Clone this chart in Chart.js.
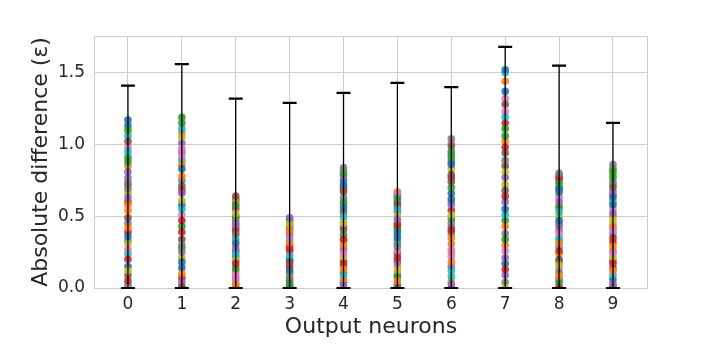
<!DOCTYPE html>
<html>
<head>
<meta charset="utf-8">
<script src="https://cdn.jsdelivr.net/npm/chart.js@4/dist/chart.umd.min.js"></script>
<style>
  html, body { margin: 0; padding: 0; background: #ffffff; }
  #wrap { width: 720px; height: 360px; }
</style>
</head>
<body>
<div id="wrap"><canvas id="chart" width="720" height="360"></canvas></div>
<script>
// one array per output neuron: absolute difference of each sample
const neuron0 = [1.17, 0.42, 0.88, 0.05, 0.63, 1.02, 0.27, 0.74, 0.12, 0.95, 0.36, 0.58, 1.10, 0.20, 0.81, 0.49, 0.00, 0.69, 0.31, 1.06, 0.15, 0.54, 0.91, 0.39, 0.77, 0.09, 0.98, 0.45, 0.66, 0.24, 1.13, 0.85, 0.02, 0.60, 0.33, 0.72];
const neuron1 = [0.83, 0.10, 1.19, 0.47, 0.66, 0.01, 0.92, 0.30, 1.05, 0.55, 0.18, 0.78, 1.15, 0.39, 0.04, 0.71, 0.97, 0.25, 0.61, 1.11, 0.14, 0.86, 0.43, 0.07, 1.01, 0.34, 0.51, 0.75, 0.21, 0.89, 0.58, 1.08, 0.28, 0.68, 0.95, 0.00];
const neuron2 = [0.31, 0.02, 0.58, 0.17, 0.44, 0.64, 0.09, 0.37, 0.52, 0.24, 0.00, 0.61, 0.13, 0.40, 0.28, 0.55, 0.05, 0.47, 0.20, 0.34, 0.62, 0.11, 0.49, 0.26, 0.07, 0.42, 0.57, 0.15, 0.33, 0.60, 0.22, 0.03, 0.38, 0.50, 0.19, 0.45];
const neuron3 = [0.12, 0.40, 0.03, 0.27, 0.49, 0.18, 0.35, 0.08, 0.45, 0.22, 0.00, 0.31, 0.47, 0.14, 0.38, 0.05, 0.25, 0.43, 0.10, 0.33, 0.20, 0.48, 0.01, 0.29, 0.16, 0.41, 0.07, 0.36, 0.23, 0.46, 0.11, 0.30, 0.02, 0.19, 0.44, 0.26];
const neuron4 = [0.56, 0.13, 0.80, 0.34, 0.02, 0.67, 0.24, 0.84, 0.45, 0.09, 0.72, 0.30, 0.59, 0.17, 0.78, 0.41, 0.00, 0.63, 0.21, 0.50, 0.75, 0.06, 0.37, 0.69, 0.27, 0.53, 0.82, 0.15, 0.47, 0.61, 0.04, 0.33, 0.71, 0.19, 0.43, 0.11];
const neuron5 = [0.39, 0.05, 0.62, 0.21, 0.48, 0.00, 0.66, 0.29, 0.12, 0.55, 0.35, 0.67, 0.08, 0.44, 0.18, 0.59, 0.26, 0.02, 0.51, 0.33, 0.64, 0.15, 0.41, 0.57, 0.10, 0.24, 0.46, 0.60, 0.03, 0.37, 0.53, 0.19, 0.31, 0.65, 0.07, 0.43];
const neuron6 = [0.62, 0.18, 0.95, 0.40, 0.03, 0.79, 0.27, 1.04, 0.51, 0.12, 0.86, 0.35, 0.70, 0.00, 0.58, 0.99, 0.22, 0.45, 0.83, 0.08, 0.66, 0.31, 0.91, 0.54, 0.15, 0.74, 1.01, 0.38, 0.05, 0.60, 0.88, 0.25, 0.48, 0.77, 0.93, 0.42];
const neuron7 = [1.52, 0.43, 1.06, 0.13, 0.77, 1.28, 0.26, 0.89, 0.00, 1.19, 0.55, 1.44, 0.34, 0.98, 0.21, 0.68, 1.23, 0.04, 0.81, 0.51, 1.37, 0.30, 1.11, 0.64, 0.09, 0.94, 1.32, 0.38, 0.72, 1.50, 0.17, 1.02, 0.47, 1.15, 0.60, 0.85];
const neuron8 = [0.47, 0.08, 0.73, 0.26, 0.60, 0.01, 0.38, 0.80, 0.16, 0.53, 0.67, 0.31, 0.04, 0.77, 0.43, 0.20, 0.63, 0.11, 0.50, 0.35, 0.70, 0.24, 0.57, 0.00, 0.45, 0.75, 0.14, 0.40, 0.65, 0.29, 0.06, 0.55, 0.18, 0.78, 0.33, 0.69];
const neuron9 = [0.58, 0.12, 0.81, 0.35, 0.03, 0.70, 0.24, 0.86, 0.47, 0.09, 0.63, 0.29, 0.77, 0.17, 0.52, 0.00, 0.40, 0.74, 0.21, 0.60, 0.06, 0.44, 0.83, 0.32, 0.67, 0.14, 0.55, 0.26, 0.79, 0.38, 0.01, 0.50, 0.72, 0.19, 0.42, 0.65];

// upper end of the error bar for each neuron (lower end is 0)
const errTop = [1.41, 1.56, 1.32, 1.29, 1.36, 1.43, 1.40, 1.68, 1.55, 1.15];

const neurons = [0, 1, 2, 3, 4, 5, 6, 7, 8, 9];
const yTicks = [0, 0.5, 1.0, 1.5];

const columns = [neuron0, neuron1, neuron2, neuron3, neuron4, neuron5, neuron6, neuron7, neuron8, neuron9];
const tab10 = ['#1f77b4', '#ff7f0e', '#2ca02c', '#d62728', '#9467bd', '#8c564b', '#e377c2', '#7f7f7f', '#bcbd22', '#17becf'];

// each sample is one scatter call in the original, so it gets one colour
const datasets = [];
for (let k = 0; k < neuron0.length; k++) {
    datasets.push({
        data: neurons.map(n => ({ x: n, y: columns[n][k] })),
        backgroundColor: tab10[k % 10] + 'e6',
        borderWidth: 0,
        pointRadius: 3.8,
        pointHoverRadius: 3.8
    });
}

const textColor = '#262626';
const gridColor = '#cccccc';

const errorBars = {
    id: 'errorBars',
    afterDatasetsDraw(chart) {
        const ctx = chart.ctx;
        const xs = chart.scales.x;
        const ys = chart.scales.y;
        ctx.save();
        ctx.strokeStyle = '#000000';
        neurons.forEach((n, i) => {
            const x = xs.getPixelForValue(n);
            const y0 = ys.getPixelForValue(0);
            const y1 = ys.getPixelForValue(errTop[i]);
            ctx.lineWidth = 1.3;
            ctx.beginPath();
            ctx.moveTo(x, y0);
            ctx.lineTo(x, y1);
            ctx.stroke();
            ctx.lineWidth = 2.2;
            ctx.beginPath();
            ctx.moveTo(x - 7, y1);
            ctx.lineTo(x + 7, y1);
            ctx.moveTo(x - 7, y0);
            ctx.lineTo(x + 7, y0);
            ctx.stroke();
        });
        ctx.restore();
    }
};

const frame = {
    id: 'frame',
    beforeDatasetsDraw(chart) {
        const { ctx, chartArea: a } = chart;
        ctx.save();
        ctx.strokeStyle = gridColor;
        ctx.lineWidth = 1;
        ctx.strokeRect(Math.round(a.left) + 0.5, Math.round(a.top) + 0.5,
            Math.round(a.right - a.left) - 1, Math.round(a.bottom - a.top));
        ctx.restore();
    }
};

new Chart(document.getElementById('chart'), {
    type: 'scatter',
    data: { datasets: datasets },
    plugins: [frame, errorBars],
    options: {
        responsive: false,
        animation: false,
        layout: { padding: { left: 0, top: 36, right: 72, bottom: 0 } },
        plugins: {
            legend: { display: false },
            tooltip: { enabled: false }
        },
        scales: {
            x: {
                type: 'linear',
                min: -0.63,
                max: 9.65,
                afterBuildTicks: s => { s.ticks = neurons.map(v => ({ value: v })); },
                afterFit: s => { s.height = 72; },
                grid: { color: gridColor, drawTicks: false },
                border: { display: false },
                ticks: {
                    color: textColor,
                    padding: 6,
                    font: { family: 'DejaVu Sans', size: 17 },
                    callback: v => String(v)
                },
                title: {
                    display: true,
                    text: 'Output neurons',
                    color: textColor,
                    font: { family: 'DejaVu Sans', size: 22 },
                    padding: { top: 0, bottom: 20 }
                }
            },
            y: {
                min: 0,
                max: 1.756,
                afterBuildTicks: s => { s.ticks = yTicks.map(v => ({ value: v })); },
                afterFit: s => { s.width = 94; },
                grid: { color: gridColor, drawTicks: false },
                border: { display: false },
                ticks: {
                    color: textColor,
                    padding: 9,
                    font: { family: 'DejaVu Sans', size: 17 },
                    callback: v => v.toFixed(1)
                },
                title: {
                    display: true,
                    text: 'Absolute difference (ε)',
                    color: textColor,
                    font: { family: 'DejaVu Sans', size: 22 },
                    padding: { top: 28, bottom: 0 }
                }
            }
        }
    }
});
</script>
</body>
</html>
